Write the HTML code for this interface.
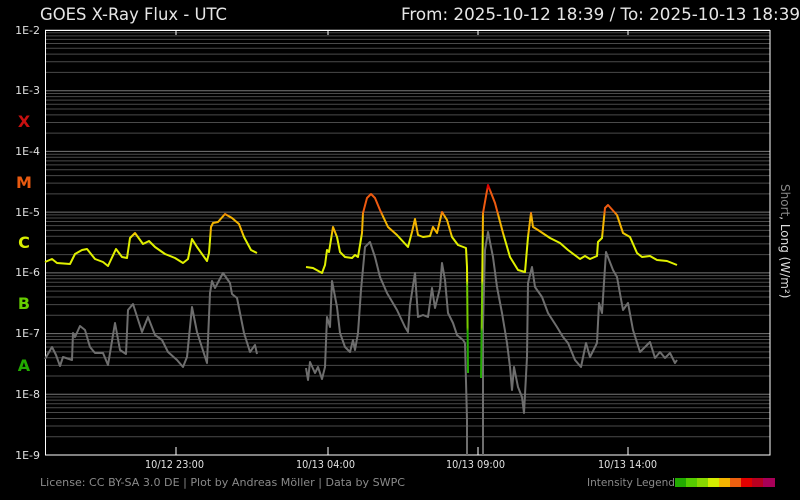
<!DOCTYPE html>
<html><head><meta charset="utf-8"><style>
html,body{margin:0;padding:0;background:#000;}
svg{display:block;font-family:"DejaVu Sans","Liberation Sans",sans-serif;}
</style></head><body>
<svg width="800" height="500" viewBox="0 0 800 500" xmlns="http://www.w3.org/2000/svg">
<rect width="800" height="500" fill="#000"/>
<defs>
<g id="dec" stroke="#4a4a4a" stroke-width="1">
<line x1="45" x2="770" y1="-18.28" y2="-18.28"/>
<line x1="45" x2="770" y1="-28.97" y2="-28.97"/>
<line x1="45" x2="770" y1="-36.55" y2="-36.55"/>
<line x1="45" x2="770" y1="-42.44" y2="-42.44"/>
<line x1="45" x2="770" y1="-47.24" y2="-47.24"/>
<line x1="45" x2="770" y1="-51.31" y2="-51.31"/>
<line x1="45" x2="770" y1="-54.83" y2="-54.83"/>
<line x1="45" x2="770" y1="-57.94" y2="-57.94"/>
<line x1="45" x2="770" y1="-60.71" y2="-60.71" stroke="#777"/>
</g>
<linearGradient id="cg" gradientUnits="userSpaceOnUse" x1="0" y1="455" x2="0" y2="30">
<stop offset="0" stop-color="#22aa00"/>
<stop offset="0.29" stop-color="#22aa00"/>
<stop offset="0.30" stop-color="#77cc00"/>
<stop offset="0.40" stop-color="#77cc00"/>
<stop offset="0.41" stop-color="#e0f000"/>
<stop offset="0.51" stop-color="#e0f000"/>
<stop offset="0.525" stop-color="#f4b400"/>
<stop offset="0.56" stop-color="#f4b400"/>
<stop offset="0.575" stop-color="#ee5a10"/>
<stop offset="0.62" stop-color="#ee5a10"/>
<stop offset="0.63" stop-color="#e00000"/>
<stop offset="1" stop-color="#e00000"/>
</linearGradient>
</defs>
<use href="#dec" transform="translate(0,455)"/>
<use href="#dec" transform="translate(0,394.29)"/>
<use href="#dec" transform="translate(0,333.57)"/>
<use href="#dec" transform="translate(0,272.86)"/>
<use href="#dec" transform="translate(0,212.14)"/>
<use href="#dec" transform="translate(0,151.43)"/>
<use href="#dec" transform="translate(0,90.71)"/>
<rect x="45.5" y="30.5" width="724.5" height="424.5" fill="none" stroke="#fff" stroke-width="1"/>
<g stroke="#fff" stroke-width="1">
<line x1="176" x2="176" y1="30" y2="35"/><line x1="328" x2="328" y1="30" y2="35"/><line x1="478" x2="478" y1="30" y2="35"/><line x1="628" x2="628" y1="30" y2="35"/>
<line x1="176" x2="176" y1="455" y2="447"/><line x1="328" x2="328" y1="455" y2="447"/><line x1="478" x2="478" y1="455" y2="447"/><line x1="628" x2="628" y1="455" y2="447"/>
</g>
<g fill="none" stroke="#6e6e6e" stroke-width="2" stroke-linejoin="round">
<polyline points="45,359 52,347 56,355 60,366 63,357 72,360 73,333 75,337 80,326 85,330 90,347 95,353 103,353 108,365 115,323 120,350 126,354 128,310 133,304 142,332 148,317 155,335 162,340 168,352 177,360 183,367 187,357 192,307 197,332 207,363 210,293 212,281 215,288 223,273 230,283 232,294 237,298 244,333 250,352 255,345 257,354"/>
<polyline points="306,368 308,380 310,362 315,373 318,367 322,379 325,367 327,317 330,327 332,281 337,307 340,333 345,347 350,352 353,340 355,350 358,333 361,290 365,247 370,242 375,257 380,277 387,293 397,310 405,327 408,332 410,305 415,273 418,317 423,315 428,317 432,288 435,308 440,288 442,263 445,280 448,313 453,323 457,335 463,340 465,343 467,420 467,455"/>
<polyline points="483,455 483,417 483,325 485,250 488,232 493,257 497,287 502,313 507,343 510,367 512,390 514,367 518,387 522,397 524,413 527,357 528,283 532,267 535,287 542,297 548,313 557,327 563,337 568,343 575,360 581,367 586,343 590,357 597,343 599,303 602,313 606,252 613,270 617,277 623,310 628,303 633,330 640,352 650,342 655,358 660,352 665,358 670,353 675,363 677,360"/>
</g>
<g fill="none" stroke="url(#cg)" stroke-width="2" stroke-linejoin="round">
<polyline points="45,262 52,259 57,263 70,264 75,254 82,250 87,249 95,259 103,262 108,266 116,249 122,257 127,258 130,238 135,233 143,244 149,241 155,247 165,254 175,258 183,263 188,259 192,239 197,247 207,261 209,253 211,227 213,223 218,222 225,214 232,218 239,224 244,237 251,250 257,253"/>
<polyline points="306,267 313,268 322,273 325,265 327,250 329,252 333,227 337,237 340,252 345,257 352,258 355,255 358,257 362,233 363,213 367,198 371,194 375,198 380,210 388,227 397,235 408,247 412,232 415,219 418,235 423,237 430,236 433,227 437,233 442,212 447,220 452,237 458,245 466,248 467,267 468,373"/>
<polyline points="481,378 482,303 483,213 488,185 495,203 503,233 510,257 518,270 525,272 528,237 531,213 533,227 538,230 550,238 560,243 568,250 580,259 585,256 590,259 597,256 598,242 602,238 605,208 608,205 617,215 623,233 630,237 637,253 642,257 650,256 657,260 667,261 677,265"/>
</g>
<text x="40" y="20" fill="#e6e6e6" font-size="17" textLength="187" lengthAdjust="spacingAndGlyphs">GOES X-Ray Flux - UTC</text>
<text x="401" y="20" fill="#e6e6e6" font-size="17" textLength="399" lengthAdjust="spacingAndGlyphs">From: 2025-10-12 18:39  /  To: 2025-10-13 18:39</text>
<g fill="#e0e0e0" font-size="11" text-anchor="end">
<text x="40" y="34">1E-2</text><text x="40" y="94">1E-3</text><text x="40" y="155">1E-4</text><text x="40" y="216">1E-5</text><text x="40" y="276">1E-6</text><text x="40" y="337">1E-7</text><text x="40" y="398">1E-8</text><text x="40" y="459">1E-9</text>
</g>
<g font-size="16" font-weight="bold" text-anchor="middle">
<text x="24" y="127" fill="#c81010">X</text>
<text x="24" y="188" fill="#e85a10">M</text>
<text x="24" y="248" fill="#d8ee00">C</text>
<text x="24" y="309" fill="#66cc00">B</text>
<text x="24" y="371" fill="#22aa00">A</text>
</g>
<g fill="#e0e0e0" font-size="11">
<text x="145" y="468" textLength="59" lengthAdjust="spacingAndGlyphs">10/12 23:00</text>
<text x="296" y="468" textLength="59" lengthAdjust="spacingAndGlyphs">10/13 04:00</text>
<text x="446" y="468" textLength="59" lengthAdjust="spacingAndGlyphs">10/13 09:00</text>
<text x="598" y="468" textLength="59" lengthAdjust="spacingAndGlyphs">10/13 14:00</text>
</g>
<text x="40" y="486" fill="#8a8a8a" font-size="11" textLength="365" lengthAdjust="spacingAndGlyphs">License: CC BY-SA 3.0 DE | Plot by Andreas Möller | Data by SWPC</text>
<text x="587" y="486" fill="#8a8a8a" font-size="11" textLength="88" lengthAdjust="spacingAndGlyphs">Intensity Legend</text>
<g>
<rect x="675" y="478" width="11.2" height="9" fill="#22aa00"/>
<rect x="686" y="478" width="11.2" height="9" fill="#55cc00"/>
<rect x="697" y="478" width="11.2" height="9" fill="#88d800"/>
<rect x="708" y="478" width="11.2" height="9" fill="#d4ec00"/>
<rect x="719" y="478" width="11.2" height="9" fill="#f4b400"/>
<rect x="730" y="478" width="11.2" height="9" fill="#ec6010"/>
<rect x="741" y="478" width="11.2" height="9" fill="#e00000"/>
<rect x="752" y="478" width="11.2" height="9" fill="#b80020"/>
<rect x="763" y="478" width="12" height="9" fill="#a80058"/>
</g>
<text transform="translate(781,184) rotate(90)" font-size="12"><tspan fill="#888">Short</tspan><tspan fill="#ddd">, Long (W/m²)</tspan></text>
</svg>
</body></html>
